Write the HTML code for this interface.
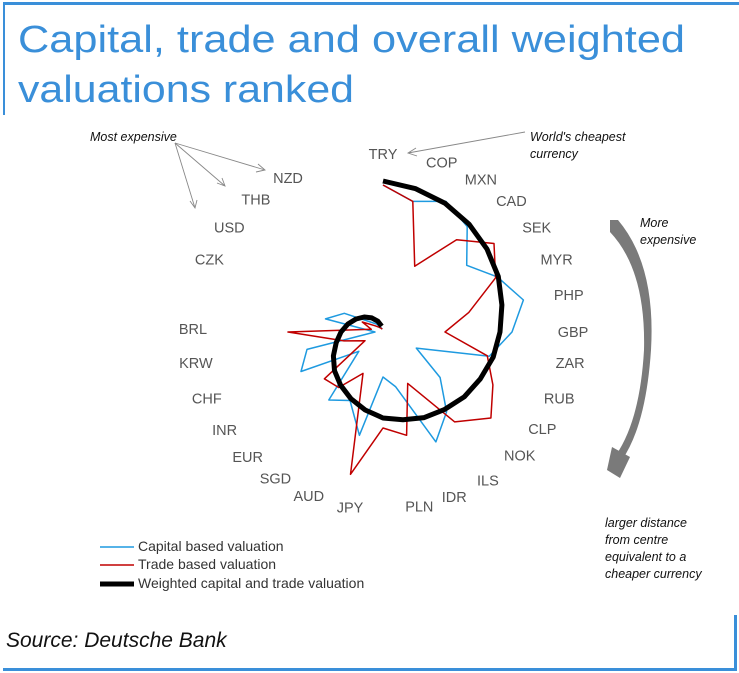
<!DOCTYPE html>
<html><head><meta charset="utf-8"><style>
body{margin:0;background:#fff;width:739px;height:673px;overflow:hidden}
svg{display:block;font-family:"Liberation Sans",sans-serif}
</style></head><body>
<svg width="739" height="673" viewBox="0 0 739 673">
<g fill="#3a8fd9">
<rect x="3" y="2" width="736" height="3"/>
<rect x="3" y="2" width="2" height="113"/>
<rect x="3" y="668" width="734" height="3"/>
<rect x="734" y="615" width="3" height="56"/>
</g>
<text x="18" y="52" font-size="38" fill="#3a8fd9" textLength="667" lengthAdjust="spacingAndGlyphs">Capital, trade and overall weighted</text>
<text x="18" y="102" font-size="38" fill="#3a8fd9" textLength="336" lengthAdjust="spacingAndGlyphs">valuations ranked</text>

<g font-style="italic" font-size="12.5" fill="#111">
<text x="90" y="141">Most expensive</text>
<text x="530" y="141">World's cheapest</text>
<text x="530" y="158">currency</text>
<text x="640" y="227">More</text>
<text x="640" y="244">expensive</text>
<text x="605" y="527">larger distance</text>
<text x="605" y="544">from centre</text>
<text x="605" y="561">equivalent to a</text>
<text x="605" y="578">cheaper currency</text>
</g>
<g stroke="#888" stroke-width="0.9" fill="none">
<path d="M175 143 L265 170 M258 164 L265 170 L256 172"/>
<path d="M175 143 L225 186 M217 183 L225 186 L222 178"/>
<path d="M175 143 L195 208 M190 201 L195 208 L197 200"/>
<path d="M525 132 L408 153 M416 148 L408 153 L417 156"/>
</g>
<g fill="#7a7a7a">
<path d="M610 220 L618 220 Q656 265 651 350 Q646 425 622 460 L616 455 Q640 420 644 350 Q646 270 610 232 Z"/>
<path d="M607 470 L612 447 L630 457 L620 478 Z"/>
</g>

<g id="plot"></g>

<g font-size="14" fill="#333">
<line x1="100" y1="547" x2="134" y2="547" stroke="#1e9ae0" stroke-width="1.5"/>
<text x="138" y="551">Capital based valuation</text>
<line x1="100" y1="565" x2="134" y2="565" stroke="#c00000" stroke-width="1.5"/>
<text x="138" y="569">Trade based valuation</text>
<line x1="100" y1="584" x2="134" y2="584" stroke="#000" stroke-width="5"/>
<text x="138" y="588">Weighted capital and trade valuation</text>
</g>
<text x="6" y="647" font-size="21" font-style="italic" fill="#111">Source: Deutsche Bank</text>
</svg>
<script>
const categories=["TRY","COP","MXN","CAD","SEK","MYR","PHP","GBP","ZAR","RUB","CLP","NOK","ILS","IDR","PLN","JPY","AUD","SGD","EUR","INR","CHF","KRW","BRL","","CZK","USD","THB","NZD"];
const capitalValues=[147,134,145,135,107,127,144,129,109,37,73,102,122,56,45,106,76,87,31,91,78,8,59,43,16,10,5,3];
const tradeValues=[147,134,73,118,142,125,88,62,107,122,138,115,57,106,96,146,46,71,75,20,40,95,12,23,10,6,4,3];
const weightedValues=[151,147,143,138,133,128,122,117,113,108,104,99,95,90,86,80,74,68,62,55,48,42,36,30,24,18,12,6];
// label placement angles in degrees (layout only)
const labelAngles=[0,18,31,42.5,54,66,78,90,100,112,123,134,146.5,158,169,190,203,214.5,225.4,236.5,248,260,271,282,294,306,318,330];
const cx=383,cy=332;
const NS="http://www.w3.org/2000/svg";
const plot=document.getElementById('plot');
function ang(i){return i*2*Math.PI/categories.length;}
function px(i,r){return cx+r*Math.sin(ang(i));}
function py(i,r){return cy-r*Math.cos(ang(i));}
function pts(vals){return vals.map((v,i)=>px(i,v).toFixed(1)+','+py(i,v).toFixed(1)).join(' ');}
categories.forEach((c,i)=>{
  if(!c)return;
  const a=labelAngles[i]*Math.PI/180;
  const t=document.createElementNS(NS,'text');
  t.setAttribute('x',(cx+190*Math.sin(a)).toFixed(1));
  t.setAttribute('y',(cy-178*Math.cos(a)+5).toFixed(1));
  t.setAttribute('text-anchor','middle');
  t.setAttribute('font-size','14.5');
  t.setAttribute('fill','#555');
  t.textContent=c;
  
  
  plot.appendChild(t);
});
function line(vals,color,w,name){
  const p=document.createElementNS(NS,'polyline');
  p.setAttribute('points',pts(vals));
  p.setAttribute('fill','none');
  p.setAttribute('stroke',color);
  p.setAttribute('stroke-width',w);
  p.setAttribute('stroke-linejoin','round');
  
  
  plot.appendChild(p);
}
line(capitalValues,'#1e9ae0',1.5,'capital-series');
line(tradeValues,'#c00000',1.5,'trade-series');
line(weightedValues,'#000',5,'weighted-series');
</script>
</body></html>
